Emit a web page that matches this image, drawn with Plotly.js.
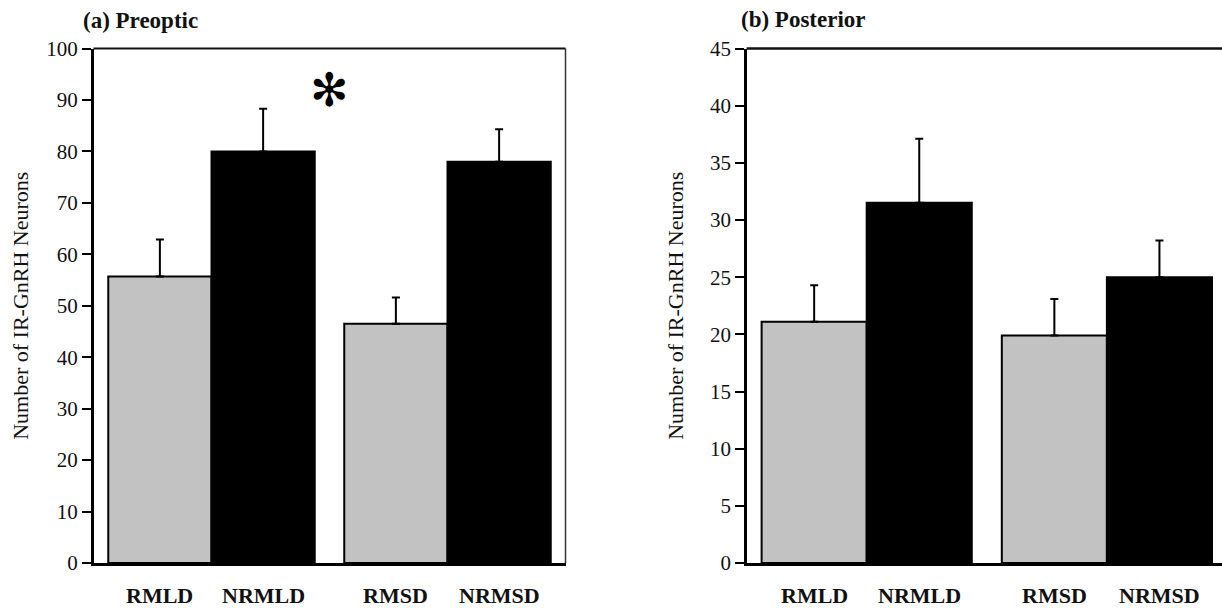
<!DOCTYPE html>
<html>
<head>
<meta charset="utf-8">
<script src="https://cdn.plot.ly/plotly-3.0.1.min.js"></script>
<style>
  html, body { margin: 0; padding: 0; background: #fff; overflow: hidden; width: 1222px; height: 608px; }
  #chart { width: 1240px; height: 608px; }
</style>
</head>
<body>
<div id="chart"></div>
<script>
// ---- Data ----
const groups = ["LD", "SD"];
const seriesNames = ["R", "NR"];
const barLabels = [["RMLD", "RMSD"], ["NRMLD", "NRMSD"]];

// (a) Preoptic
const preopticR = [55.7, 46.5];
const preopticRerr = [7.2, 5.1];
const preopticNR = [80.0, 78.0];
const preopticNRerr = [8.3, 6.3];

// (b) Posterior
const posteriorR = [21.1, 19.9];
const posteriorRerr = [3.2, 3.2];
const posteriorNR = [31.5, 25.0];
const posteriorNRerr = [5.6, 3.2];

const panelTitles = ["(a) Preoptic", "(b) Posterior"];
const yTitle = "Number of IR-GnRH Neurons";
const sigMark = "✻";

// ---- Styles ----
const W = 1240, H = 608;
const serif = "Liberation Serif, Times New Roman, serif";
const colors = ["#c2c2c2", "#000000"];
const zeros = [0, 0];
const BARGAP = 0.125;

function barTrace(y, err, idx, xa, ya) {
  return {
    type: "bar",
    x: groups,
    y: y,
    name: seriesNames[idx],
    xaxis: xa, yaxis: ya,
    marker: { color: colors[idx], line: { color: "#000", width: 2 } },
    error_y: { type: "data", symmetric: false, array: err, arrayminus: zeros,
               color: "#000", thickness: 2, width: 4 },
    hoverinfo: "skip",
    showlegend: false
  };
}

const data = [
  barTrace(preopticR, preopticRerr, 0, "x", "y"),
  barTrace(preopticNR, preopticNRerr, 1, "x", "y"),
  barTrace(posteriorR, posteriorRerr, 0, "x2", "y2"),
  barTrace(posteriorNR, posteriorNRerr, 1, "x2", "y2")
];

const yTop = (H - 48.5) / H, yBot = (H - 563) / H;
const xDom1 = [93.5 / W, 565.5 / W];
const xDom2 = [746.6 / W, 1227 / W];

function xAxis(dom) {
  return {
    domain: dom, type: "category", range: [-0.5, 1.5], fixedrange: true,
    showline: true, linecolor: "#000", linewidth: 2.5,
    showticklabels: false, ticks: "", showgrid: false, zeroline: false
  };
}
function yAxis(dom, rng, dt, anchor, standoff) {
  return {
    domain: dom, range: rng, dtick: dt, tick0: 0, anchor: anchor, fixedrange: true,
    showline: true, linecolor: "#000", linewidth: 2.5,
    ticks: "outside", ticklen: 9, tickwidth: 2, tickcolor: "#000",
    tickfont: { family: serif, size: 21, color: "#111" },
    showgrid: false, zeroline: false,
    title: { text: yTitle, font: { family: serif, size: 22, color: "#111" }, standoff: standoff }
  };
}

const annotations = [];
// bar category labels: centred under each bar of a group
function barOffsetPx(dom) {
  const catPx = (dom[1] - dom[0]) * W / groups.length;
  return catPx * (1 - BARGAP) / seriesNames.length / 2;
}
const offs = [barOffsetPx(xDom1), barOffsetPx(xDom2)];
[["x", "y"], ["x2", "y2"]].forEach((ax, p) => {
  seriesNames.forEach((s, si) => {
    groups.forEach((g, gi) => {
      annotations.push({
        xref: ax[0], yref: ax[1], x: g, y: 0,
        text: "<b>" + barLabels[si][gi] + "</b>",
        showarrow: false, yanchor: "middle", yshift: -32,
        xshift: (si === 0 ? -1 : 1) * offs[p],
        font: { family: serif, size: 22, color: "#111" }
      });
    });
  });
});
// panel titles
annotations.push({ xref: "paper", yref: "paper", x: 81 / W, y: (H - 20) / H, xanchor: "left", yanchor: "middle",
  text: "<b>" + panelTitles[0] + "</b>", showarrow: false, font: { family: serif, size: 23, color: "#111" } });
annotations.push({ xref: "paper", yref: "paper", x: 739 / W, y: (H - 19) / H, xanchor: "left", yanchor: "middle",
  text: "<b>" + panelTitles[1] + "</b>", showarrow: false, font: { family: serif, size: 23, color: "#111" } });
// significance mark
annotations.push({ xref: "x", yref: "y", x: 0.5, y: 92, text: sigMark, showarrow: false,
  xanchor: "center", yanchor: "middle", font: { family: "DejaVu Sans", size: 46, color: "#000" } });

const shapes = [
  { type: "line", xref: "x domain", yref: "y domain", x0: 0, x1: 1, y0: 1, y1: 1, line: { color: "#111", width: 2 } },
  { type: "line", xref: "x domain", yref: "y domain", x0: 1, x1: 1, y0: 0, y1: 1, line: { color: "#333", width: 1.5 } },
  { type: "line", xref: "x2 domain", yref: "y2 domain", x0: 0, x1: 1, y0: 1, y1: 1, line: { color: "#111", width: 2.5 } },
  { type: "line", xref: "x2 domain", yref: "y2 domain", x0: 1, x1: 1, y0: 0, y1: 1, line: { color: "#333", width: 1.5 } }
];

const layout = {
  width: W, height: H,
  margin: { l: 0, r: 0, t: 0, b: 0 },
  paper_bgcolor: "#fff", plot_bgcolor: "#fff",
  barmode: "group", bargap: BARGAP, bargroupgap: 0,
  showlegend: false,
  xaxis: xAxis(xDom1),
  yaxis: yAxis([yBot, yTop], [0, 100], 10, "x", 12),
  xaxis2: xAxis(xDom2),
  yaxis2: yAxis([yBot, yTop], [0, 45], 5, "x2", 20),
  annotations: annotations,
  shapes: shapes
};

Plotly.newPlot("chart", data, layout, { displayModeBar: false, staticPlot: true });
</script>
</body>
</html>
